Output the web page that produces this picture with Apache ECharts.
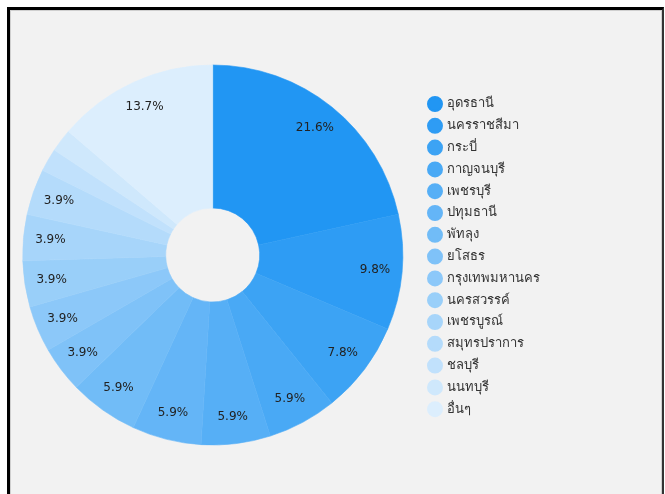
<!DOCTYPE html>
<html>
<head>
<meta charset="utf-8">
<script src="https://cdn.jsdelivr.net/npm/echarts@6/dist/echarts.min.js"></script>
<style>
  html, body { margin: 0; padding: 0; background: #ffffff; width: 665px; height: 494px; overflow: hidden; }
  #frame { position: absolute; left: 7px; top: 7px; width: 652px; height: 540px;
    border-left: 3px solid #000; border-top: 3px solid #000; border-right: 2px solid #333;
    background: #f2f2f2; box-shadow: inset 1px 1px 0 #cfcfcf, inset -1px 0 0 #cfcfcf; }
  #chart { position: absolute; left: 0; top: 0; width: 665px; height: 494px; }
</style>
</head>
<body>
<div id="frame"></div>
<div id="chart"></div>
<script>
const categories = ['อุดรธานี','นครราชสีมา','กระบี่','กาญจนบุรี','เพชรบุรี','ปทุมธานี','พัทลุง','ยโสธร','กรุงเทพมหานคร','นครสวรรค์','เพชรบูรณ์','สมุทรปราการ','ชลบุรี','นนทบุรี','อื่นๆ'];
const values = [11, 5, 4, 3, 3, 3, 3, 2, 2, 2, 2, 2, 1, 1, 7];
const colors = ['#2196F3','#2E9CF4','#3CA3F4','#49A9F5','#56AFF6','#64B5F7','#71BCF7','#7FC2F8','#8CC8F9','#99CFF9','#A7D5FA','#B4DBFB','#C1E1FC','#CFE8FC','#DCEEFD'];

const pieData = categories.map((n, i) => ({ name: n, value: values[i], itemStyle: { color: colors[i], borderColor: colors[i], borderWidth: 0.6 } }));
const labelData = categories.map((n, i) => ({ name: n, value: values[i] }));

const chart = echarts.init(document.getElementById('chart'), null, { renderer: 'canvas' });
chart.setOption({
  backgroundColor: 'transparent',
  animation: false,
  textStyle: { fontFamily: 'DejaVu Sans, sans-serif' },
  legend: {
    orient: 'vertical',
    left: 422,
    top: 91,
    icon: 'circle',
    itemWidth: 14,
    itemHeight: 14,
    itemGap: 5.8,
    data: categories,
    textStyle: { fontSize: 13, color: '#333', fontFamily: 'DejaVu Sans, sans-serif' }
  },
  series: [
    {
      type: 'pie',
      center: [212.7, 255],
      radius: [47, 190],
      startAngle: 90,
      clockwise: true,
      label: { show: false },
      labelLine: { show: false },
      emphasis: { disabled: true },
      data: pieData
    },
    {
      type: 'pie',
      center: [212.7, 255],
      radius: [130, 190],
      startAngle: 90,
      clockwise: true,
      silent: true,
      legendHoverLink: false,
      minShowLabelAngle: 10,
      itemStyle: { color: 'rgba(0,0,0,0)', borderWidth: 0 },
      label: {
        show: true,
        position: 'inside',
        color: '#222',
        fontSize: 12,
        fontFamily: 'DejaVu Sans, sans-serif',
        formatter: function (p) { return p.percent.toFixed(1) + '%'; }
      },
      labelLine: { show: false },
      emphasis: { disabled: true },
      data: labelData
    }
  ]
});
</script>
</body>
</html>
